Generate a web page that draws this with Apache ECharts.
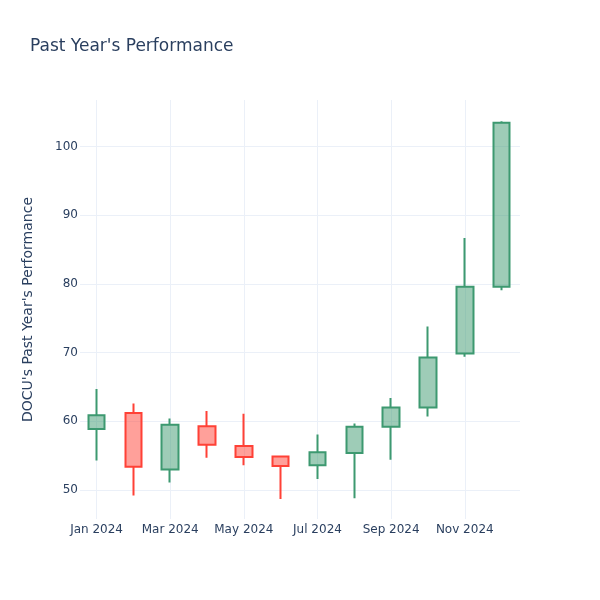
<!DOCTYPE html>
<html>
<head>
<meta charset="utf-8">
<script src="https://cdn.jsdelivr.net/npm/echarts@6/dist/echarts.min.js"></script>
<style>
  html, body { margin: 0; padding: 0; background: #fff; }
  #main { width: 600px; height: 600px; }
</style>
</head>
<body>
<div id="main"></div>
<script>
// monthly candles, Jan..Dec 2024 (x = month index)
var months = [0, 1, 2, 3, 4, 5, 6, 7, 8, 9, 10, 11];
var opens  = [58.9, 61.2, 53.0, 59.3, 56.4, 54.9, 53.6, 55.4, 59.2, 62.0, 69.9, 79.6];
var closes = [60.9, 53.4, 59.5, 56.6, 54.8, 53.5, 55.5, 59.2, 62.0, 69.3, 79.6, 103.5];
var lows   = [54.3, 49.2, 51.1, 54.7, 53.6, 48.7, 51.6, 48.8, 54.4, 60.7, 69.4, 79.1];
var highs  = [64.7, 62.6, 60.4, 61.5, 61.1, 55.0, 58.1, 59.7, 63.4, 73.8, 86.7, 103.7];

var tickMonths = [0, 2, 4, 6, 8, 10];
var tickLabels = ['Jan 2024', 'Mar 2024', 'May 2024', 'Jul 2024', 'Sep 2024', 'Nov 2024'];
var yTicks = [50, 60, 70, 80, 90, 100];

var textColor = '#2a3f5f';
var gridColor = '#EBF0F8';

var candles = months.map(function (m, i) {
    return [m, opens[i], closes[i], lows[i], highs[i]];
});

var myChart = echarts.init(document.getElementById('main'));
myChart.setOption({
    animation: false,
    textStyle: { fontFamily: 'DejaVu Sans' },
    title: {
        text: "Past Year's Performance",
        left: 25,
        top: 33,
        textStyle: { fontSize: 17, fontWeight: 'normal', color: textColor, fontFamily: 'DejaVu Sans' }
    },
    grid: { left: 80, right: 80, top: 100, bottom: 81 },
    xAxis: {
        type: 'value',
        min: -0.45,
        max: 11.5,
        axisLine: { show: false },
        axisTick: { show: false, customValues: tickMonths },
        splitLine: { show: true, lineStyle: { color: gridColor, width: 1 } },
        axisLabel: {
            customValues: tickMonths,
            color: textColor,
            fontSize: 12,
            margin: 5,
            formatter: function (v) {
                var k = tickMonths.indexOf(Math.round(v));
                return k >= 0 ? tickLabels[k] : '';
            }
        }
    },
    yAxis: {
        type: 'value',
        min: 45.78,
        max: 106.8,
        name: "DOCU's Past Year's Performance",
        nameLocation: 'middle',
        nameGap: 45,
        nameTextStyle: { fontSize: 14, color: textColor },
        axisLine: { show: false },
        axisTick: { show: false, customValues: yTicks },
        splitLine: { show: true, lineStyle: { color: gridColor, width: 1 } },
        axisLabel: { customValues: yTicks, color: textColor, fontSize: 12, margin: 2 }
    },
    series: [{
        type: 'candlestick',
        data: candles,
        encode: { x: 0, y: [1, 2, 3, 4] },
        barWidth: 17,
        itemStyle: {
            color: 'rgba(61,153,112,0.5)',
            color0: 'rgba(255,65,54,0.5)',
            borderColor: '#3D9970',
            borderColor0: '#FF4136',
            borderWidth: 2
        }
    }]
});
</script>
</body>
</html>
